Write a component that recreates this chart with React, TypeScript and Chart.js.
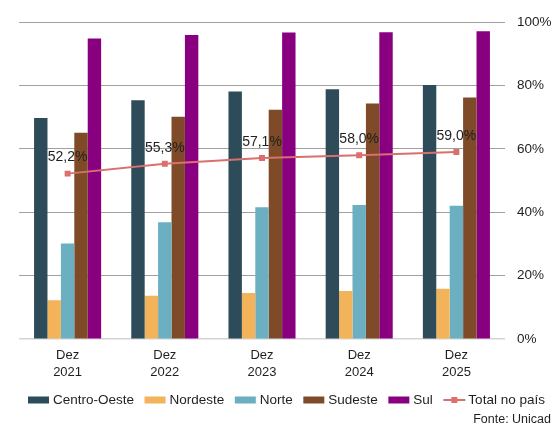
import React, { useEffect, useRef } from "react";
import { Chart, registerables } from "chart.js";

Chart.register(...registerables);

// Share of stations per region, December of each year (%)
const years = ["2021", "2022", "2023", "2024", "2025"];
const monthLabel = "Dez";
const centroOeste = [69.7, 75.3, 78.1, 78.8, 80.1];
const nordeste = [12.3, 13.7, 14.6, 15.2, 15.9];
const norte = [30.2, 36.9, 41.6, 42.3, 42.1];
const sudeste = [65.1, 70.1, 72.3, 74.3, 76.2];
const sul = [94.8, 95.9, 96.7, 96.8, 97.1];
const totalPais = [52.2, 55.3, 57.1, 58.0, 59.0];
const yTicks = [0, 20, 40, 60, 80, 100];

const FONT = '"Liberation Sans", Arial, Helvetica, sans-serif';
const TEXT = "#1f1f1f";
const LINE_COLOR = "#D9706E";

const fmtPct = (v: number) => v.toFixed(1).replace(".", ",") + "%";

// Value labels above the "Total no país" points
const lineLabels = {
  id: "lineLabels",
  afterDatasetsDraw(chart: any) {
    const idx = chart.data.datasets.findIndex((d: any) => d.type === "line");
    if (idx < 0) return;
    const meta = chart.getDatasetMeta(idx);
    const ctx = chart.ctx;
    ctx.save();
    ctx.font = `14px ${FONT}`;
    ctx.fillStyle = TEXT;
    ctx.textAlign = "center";
    ctx.textBaseline = "middle";
    meta.data.forEach((pt: any, i: number) => {
      ctx.fillText(fmtPct(chart.data.datasets[idx].data[i]), pt.x, pt.y - 16);
    });
    ctx.restore();
  },
};

// Legend row and source note along the bottom
const bottomLegend = {
  id: "bottomLegend",
  afterDraw(chart: any) {
    const ctx = chart.ctx;
    ctx.save();
    ctx.font = `13.5px ${FONT}`;
    ctx.textBaseline = "middle";
    ctx.textAlign = "left";
    const cy = 400;
    let x = 28;
    const bars = chart.data.datasets.filter((d: any) => d.type !== "line");
    const lines = chart.data.datasets.filter((d: any) => d.type === "line");
    [...bars, ...lines].forEach((ds: any) => {
      if (ds.type === "line") {
        ctx.strokeStyle = ds.borderColor;
        ctx.lineWidth = 2;
        ctx.beginPath();
        ctx.moveTo(x, cy);
        ctx.lineTo(x + 22, cy);
        ctx.stroke();
        ctx.fillStyle = ds.pointBackgroundColor;
        ctx.fillRect(x + 11 - 3, cy - 3, 6, 6);
      } else {
        ctx.fillStyle = ds.backgroundColor;
        ctx.fillRect(x, cy - 3.5, 21, 7);
      }
      x += 22 + 3;
      ctx.fillStyle = TEXT;
      ctx.fillText(ds.label, x, cy);
      x += ctx.measureText(ds.label).width + 10.5;
    });
    ctx.font = `12.5px ${FONT}`;
    ctx.textAlign = "right";
    ctx.fillText("Fonte: Unicad", 551, 420);
    ctx.restore();
  },
};

export default function App() {
  const ref = useRef<HTMLCanvasElement>(null);

  useEffect(() => {
    if (!ref.current) return;
    const barDs = (label: string, data: number[], color: string) => ({
      type: "bar" as const,
      label,
      data,
      backgroundColor: color,
      borderWidth: 0,
      order: 1,
      categoryPercentage: 0.69,
      barPercentage: 1.0,
    });
    const chart = new Chart(ref.current, {
      type: "bar",
      data: {
        labels: years.map((y) => [monthLabel, y]),
        datasets: [
          barDs("Centro-Oeste", centroOeste, "#2E4B59"),
          barDs("Nordeste", nordeste, "#F2B35A"),
          barDs("Norte", norte, "#6BAFC0"),
          barDs("Sudeste", sudeste, "#7E4A27"),
          barDs("Sul", sul, "#880080"),
          {
            type: "line" as const,
            label: "Total no país",
            data: totalPais,
            borderColor: LINE_COLOR,
            backgroundColor: LINE_COLOR,
            pointBackgroundColor: LINE_COLOR,
            pointBorderColor: LINE_COLOR,
            borderWidth: 2,
            pointStyle: "rect",
            pointRadius: 4.2,
            pointBorderWidth: 0,
            tension: 0,
            order: 0,
          } as any,
        ],
      },
      options: {
        responsive: false,
        animation: false,
        layout: { padding: { left: 19, right: 2, top: 22, bottom: 36 } },
        plugins: {
          legend: { display: false },
          tooltip: { enabled: false },
          title: { display: false },
        },
        scales: {
          x: {
            grid: { display: false, drawTicks: false },
            border: { display: false },
            ticks: {
              color: TEXT,
              padding: 8,
              font: { family: FONT, size: 13, lineHeight: 1.3 },
              maxRotation: 0,
            },
          },
          y: {
            position: "right",
            min: 0,
            max: 100,
            afterBuildTicks: (axis: any) => {
              axis.ticks = yTicks.map((v) => ({ value: v }));
            },
            afterFit: (axis: any) => {
              axis.width = 46;
            },
            grid: {
              drawTicks: false,
              color: (c: any) => (c.tick && c.tick.value === 0 ? "#d4d4d4" : "#a0a0a0"),
              lineWidth: (c: any) => (c.tick && c.tick.value === 0 ? 1.5 : 1),
            },
            border: { display: false },
            ticks: {
              color: TEXT,
              padding: 12,
              font: { family: FONT, size: 13.5 },
              callback: (v: any) => v + "%",
            },
          },
        },
      },
      plugins: [lineLabels, bottomLegend],
    });
    return () => chart.destroy();
  }, []);

  return (
    <div style={{ position: "fixed", left: 0, top: 0, width: 553, height: 425, background: "#fff" }}>
      <canvas ref={ref} width={553} height={425} />
    </div>
  );
}
